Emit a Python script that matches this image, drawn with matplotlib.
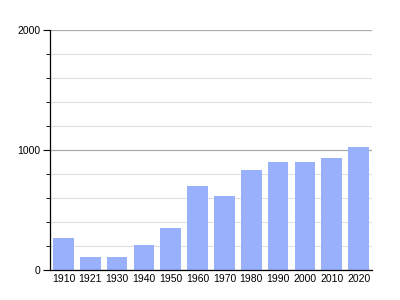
import matplotlib
matplotlib.use("Agg")
import matplotlib.pyplot as plt
from matplotlib.ticker import MultipleLocator

plt.rcParams['font.family'] = ['Liberation Sans', 'DejaVu Sans']

years = ["1910", "1921", "1930", "1940", "1950", "1960", "1970", "1980", "1990", "2000", "2010", "2020"]
population = [267, 109, 109, 209, 351, 702, 618, 836, 902, 902, 936, 1028]

fig = plt.figure(figsize=(4, 3), dpi=100)
ax = fig.add_axes([0.125, 0.1, 0.805, 0.8])

x = range(len(years))
ax.bar(x, population, width=0.77, color="#99b1fd", zorder=2)
ax.set_xlim(-0.5, len(years) - 0.5)
ax.set_ylim(0, 2000)
ax.set_xticks(list(x))
ax.set_xticklabels(years, fontsize=7.5)
ax.tick_params(axis="x", length=0, pad=3)
ax.yaxis.set_major_locator(MultipleLocator(1000))
ax.yaxis.set_minor_locator(MultipleLocator(200))
ax.tick_params(axis="y", which="major", length=5, labelsize=7.5, pad=2)
ax.tick_params(axis="y", which="minor", length=3)
ax.grid(axis="y", which="major", color="#aaaaaa", linewidth=0.9, zorder=0)
ax.grid(axis="y", which="minor", color="#e0e0e0", linewidth=0.8, zorder=0)
for s in ["top", "right"]:
    ax.spines[s].set_visible(False)
ax.spines["left"].set_linewidth(0.9)
ax.spines["bottom"].set_linewidth(0.9)
ax.set_axisbelow(True)

fig.savefig("out.png", dpi=100)
